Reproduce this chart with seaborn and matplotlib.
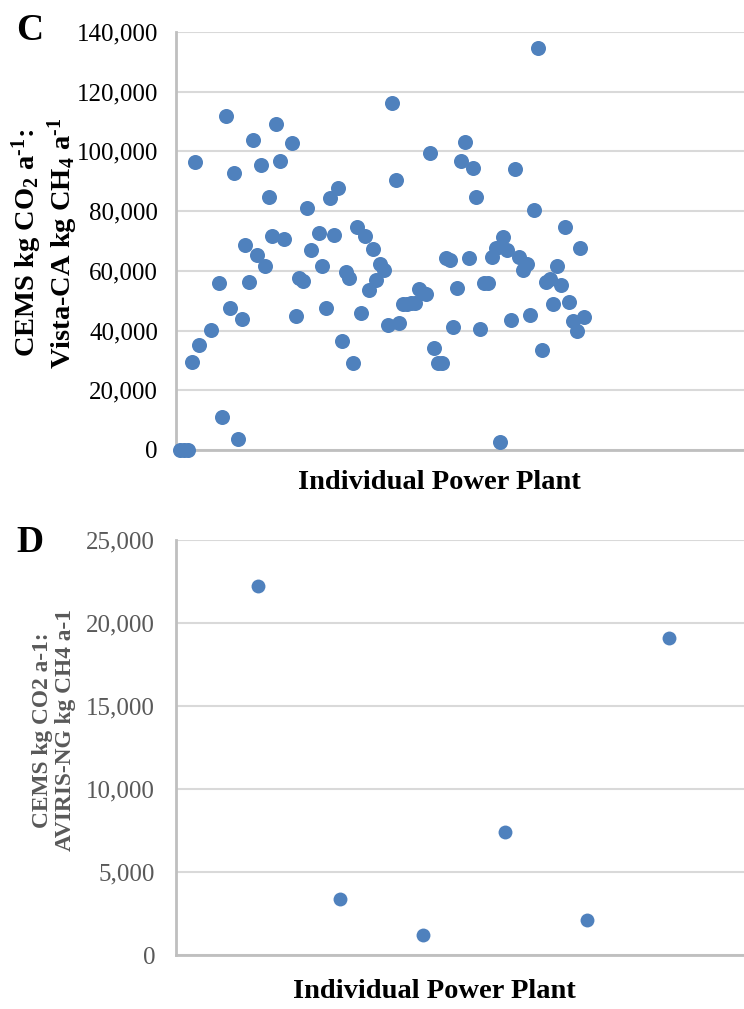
import numpy as np
import pandas as pd
import seaborn as sns
import matplotlib
matplotlib.use("Agg")
import matplotlib.pyplot as plt

nan = np.nan

# Panel C: CEMS kg CO2/yr : Vista-CA kg CH4/yr, per power plant (index order)
vista_ratio = [
    0, 0, 0, 29500, 96300, 35200, nan, nan, 40100, nan,
    55800, 11200, 111700, 47700, 92700, 3600, 43900, 68600, 56400, 103900,
    65200, 95300, 61600, 84900, 71700, 109100, 96800, 70600, nan, 102700,
    45000, 57700, 56600, 81000, 67100, nan, 72600, 61600, 47700, 84300,
    72100, 87900, 36500, 59500, 57500, 29300, 74600, 46000, 71700, 53700,
    67400, 56800, 62200, 60200, 41900, 116100, 90500, 42500, 49000, 49000,
    49100, 49300, 53800, 52700, 52400, 99400, 34300, 29300, 29300, 64200,
    63500, 41100, 54400, 96800, 103300, 64400, 94400, 84900, 40400, 56000,
    56000, 64800, 67800, 2800, 71500, 66900, 43400, 94100, 64800, 60200,
    62200, 45200, 80400, 134800, 33400, 56400, 57200, 48800, 61600, 55200,
    74600, 49600, 43200, 39900, 67600, 44700,
]

# Panel D: CEMS kg CO2/yr : AVIRIS-NG kg CH4/yr
aviris_ratio = [22200, 3400, 1200, 7400, 2100, 19100]

c_yticks = [0, 20000, 40000, 60000, 80000, 100000, 120000, 140000]
d_yticks = [0, 5000, 10000, 15000, 20000, 25000]

c_ylabel = "CEMS kg CO$_{2}$ a$^{\\text{-}1}$:\nVista-CA kg CH$_{4}$ a$^{\\text{-}1}$"
d_ylabel = "CEMS kg CO2 a-1:\nAVIRIS-NG kg CH4 a-1"
xlabel_text = "Individual Power Plant"

df_c = pd.DataFrame({"plant": np.arange(1, len(vista_ratio) + 1), "ratio": vista_ratio})
df_d = pd.DataFrame({"plant": np.arange(1, len(aviris_ratio) + 1), "ratio": aviris_ratio})

sns.set_theme(style="white")
plt.rcParams["font.family"] = ["Liberation Serif", "DejaVu Serif"]
plt.rcParams["mathtext.fontset"] = "custom"
plt.rcParams["mathtext.rm"] = "Liberation Serif:bold"
plt.rcParams["mathtext.bf"] = "Liberation Serif:bold"
plt.rcParams["mathtext.it"] = "Liberation Serif:bold"
plt.rcParams["mathtext.default"] = "bf"

W, H = 744, 1009
fig = plt.figure(figsize=(W / 100, H / 100), dpi=100)

blue = "#4F81BD"
grid_c = "#D9D9D9"
spine_c = "#BFBFBF"


def style_axes(ax, yticks, ymax, tick_color, pad):
    ax.set_ylim(0, ymax)
    ax.set_yticks(yticks)
    ax.set_yticklabels([f"{v:,}" for v in yticks])
    ax.set_xticks([])
    ax.yaxis.grid(True, color=grid_c, linewidth=1.5)
    ax.xaxis.grid(False)
    ax.set_axisbelow(True)
    for s in ["top", "right"]:
        ax.spines[s].set_visible(False)
    for s in ["left", "bottom"]:
        ax.spines[s].set_visible(True)
        ax.spines[s].set_color(spine_c)
        ax.spines[s].set_linewidth(2)
    ax.tick_params(axis="y", length=0, pad=pad, labelsize=18, labelcolor=tick_color)
    ax.set_xlabel("")
    ax.set_ylabel("")


# Panel C
ax1 = fig.add_axes([176 / W, 1 - 450 / H, (W - 176) / W, 418 / H])
sns.scatterplot(data=df_c, x="plant", y="ratio", ax=ax1, color=blue, s=117,
                linewidth=0, clip_on=False, zorder=3)
ax1.set_xlim(-0.05, 147.5)
style_axes(ax1, c_yticks, 140000, "black", 13)

# Panel D
ax2 = fig.add_axes([176 / W, 1 - 955 / H, (W - 176) / W, 415 / H])
sns.scatterplot(data=df_d, x="plant", y="ratio", ax=ax2, color=blue, s=100,
                linewidth=0, clip_on=False, zorder=3)
ax2.set_xlim(0, 6.91)
style_axes(ax2, d_yticks, 25000, "#595959", 15)

# Labels
fig.text(45 / W, 1 - 243 / H, c_ylabel, rotation=90, ha="center", va="center",
         fontsize=20.5, fontweight="bold", color="black", multialignment="center",
         linespacing=1.05)
fig.text(54 / W, 1 - 730 / H, d_ylabel, rotation=90, ha="center", va="center",
         fontsize=16.8, fontweight="bold", color="#595959", multialignment="center",
         linespacing=1.1)
fig.text(439 / W, 1 - 483 / H, xlabel_text, ha="center", va="center",
         fontsize=20.5, fontweight="bold", color="black")
fig.text(434 / W, 1 - 992 / H, xlabel_text, ha="center", va="center",
         fontsize=20.5, fontweight="bold", color="black")
fig.text(30 / W, 1 - 30 / H, "C", ha="center", va="center",
         fontsize=27, fontweight="bold", color="black")
fig.text(30 / W, 1 - 543 / H, "D", ha="center", va="center",
         fontsize=27, fontweight="bold", color="black")

fig.savefig("out.png", dpi=100, facecolor="white")
